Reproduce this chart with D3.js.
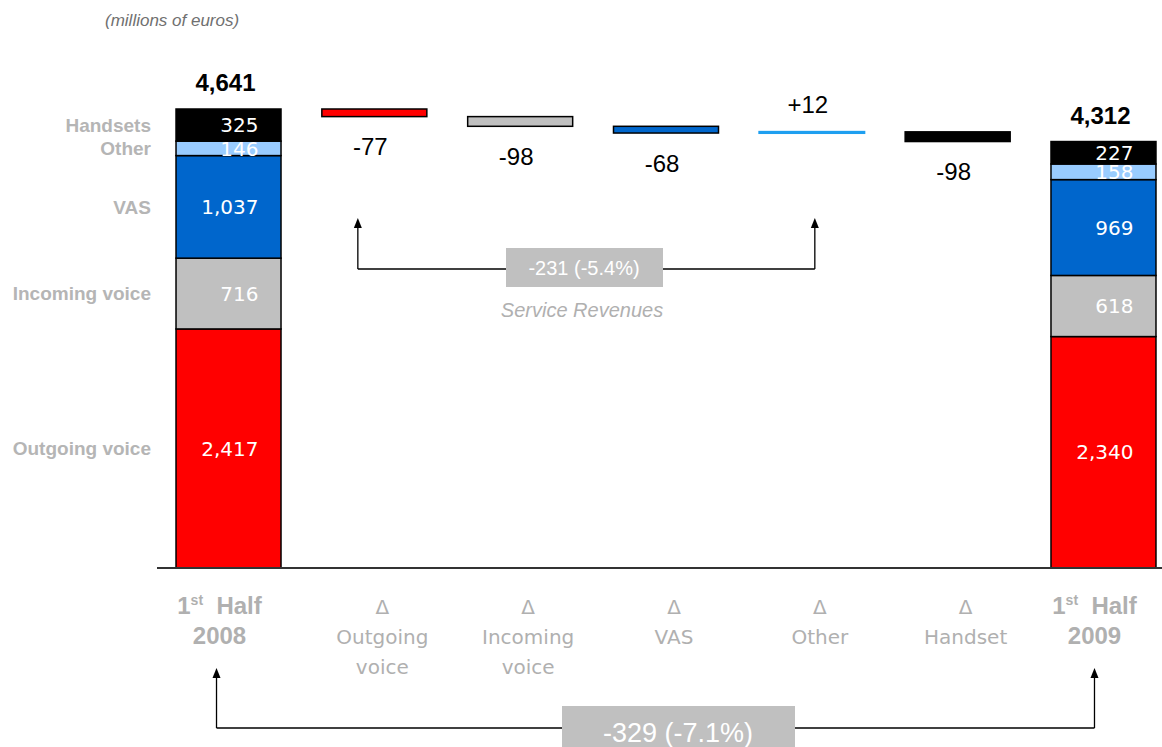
<!DOCTYPE html>
<html><head><meta charset="utf-8">
<script src="https://cdn.jsdelivr.net/npm/d3@7"></script>
<style>
html,body{margin:0;padding:0;background:#fff;}
svg{display:block;}
</style></head>
<body>
<svg id="chart" width="1162" height="747"></svg>
<script>
// ---- data ----
const categories = ["1st Half 2008","Δ Outgoing voice","Δ Incoming voice","Δ VAS","Δ Other","Δ Handset","1st Half 2009"];
const categoryLines = [["1st Half","2008"],["Δ","Outgoing","voice"],["Δ","Incoming","voice"],["Δ","VAS"],["Δ","Other"],["Δ","Handset"],["1st Half","2009"]];
const segmentNames = ["Outgoing voice","Incoming voice","VAS","Other","Handsets"];
const segmentColors = ["#ff0000","#c0c0c0","#0066cc","#99ccff","#000000"];
const values2008 = [2417,716,1037,146,325];
const values2009 = [2340,618,969,158,227];
const deltas = [-77,-98,-68,12,-98];
const deltaColors = ["#ff0000","#c0c0c0","#0066cc","#1e9ff0","#000000"];
const totals = [4641,4312];
const serviceChangeLabel = "-231 (-5.4%)";
const totalChangeLabel = "-329 (-7.1%)";

const svg = d3.select("#chart");
const fmt = d3.format(",");

const x = d3.scaleBand().domain(categories).range([155.6,1176.4]).paddingInner(0.28).paddingOuter(0.14);
const y = d3.scaleLinear().domain([0,4641]).range([568,109]);
const bw = x.bandwidth();
const cx = c => x(c) + bw/2;

// unit label
svg.append("text").attr("x",105).attr("y",26)
  .attr("font-family","Liberation Sans, Arial, sans-serif").attr("font-style","italic")
  .attr("font-size",17).attr("fill","#707070").text("(millions of euros)");

// stacked bars
function stack(vals){
  let acc=0; return vals.map((v,i)=>{const s={v, y0:acc, y1:acc+v, i}; acc+=v; return s;});
}
const stacks = [{cat:categories[0], segs:stack(values2008), total:totals[0]},
                {cat:categories[6], segs:stack(values2009), total:totals[1]}];

stacks.forEach(st=>{
  const g = svg.append("g");
  g.selectAll("rect").data(st.segs).join("rect")
    .attr("x",x(st.cat)).attr("width",bw)
    .attr("y",d=>y(d.y1)).attr("height",d=>y(d.y0)-y(d.y1))
    .attr("fill",d=>segmentColors[d.i]).attr("stroke","#000").attr("stroke-width",1.5);
  g.selectAll("text.seg").data(st.segs).join("text").attr("class","seg")
    .attr("x",cx(st.cat)+30).attr("y",d=>(y(d.y0)+y(d.y1))/2)
    .attr("dy","0.36em").attr("text-anchor","end")
    .attr("font-family","DejaVu Sans, sans-serif").attr("font-size",20).attr("fill","#fff")
    .text(d=>fmt(d.v));
  g.append("text").attr("x",cx(st.cat)-3).attr("y",y(st.total)-18)
    .attr("text-anchor","middle").attr("font-family","Liberation Sans, Arial, sans-serif")
    .attr("font-weight","bold").attr("font-size",24).attr("fill","#000").text(fmt(st.total));
});

// left legend labels (aligned to first bar segments)
svg.append("g").selectAll("text").data(stacks[0].segs).join("text")
  .attr("x",151).attr("y",d=>(y(d.y0)+y(d.y1))/2).attr("dy","0.36em").attr("text-anchor","end")
  .attr("font-family","Liberation Sans, Arial, sans-serif").attr("font-weight","bold")
  .attr("font-size",19).attr("fill","#b5b5b5").text(d=>segmentNames[d.i]);

// waterfall deltas
let run = totals[0];
const wf = deltas.map((d,i)=>{const o={d, from:run, to:run+d, i, cat:categories[i+1]}; run+=d; return o;});
const dg = svg.append("g");
dg.selectAll("rect").data(wf).join("rect")
  .attr("x",d=>x(d.cat)).attr("width",bw)
  .attr("y",d=>y(Math.max(d.from,d.to))).attr("height",d=>y(Math.min(d.from,d.to))-y(Math.max(d.from,d.to)))
  .attr("fill",d=>deltaColors[d.i])
  .attr("stroke",d=>d.d>0?deltaColors[d.i]:"#000").attr("stroke-width",d=>d.d>0?2:1.5);
dg.selectAll("text").data(wf).join("text")
  .attr("x",d=>cx(d.cat)-4)
  .attr("y",d=>d.d<0 ? y(Math.min(d.from,d.to))+30 : y(Math.max(d.from,d.to))-27)
  .attr("dy","0.36em").attr("text-anchor","middle")
  .attr("font-family","Liberation Sans, Arial, sans-serif").attr("font-size",24).attr("fill","#000")
  .text(d=>(d.d>0?"+":"")+d.d);

// baseline
svg.append("line").attr("x1",157).attr("x2",1162).attr("y1",y(0)).attr("y2",y(0))
  .attr("stroke","#333").attr("stroke-width",2);

// category labels
const lg = svg.append("g").attr("fill","#b0b0b0").attr("text-anchor","middle");
categories.forEach((c,i)=>{
  const lines = categoryLines[i];
  const bold = (i===0||i===6);
  const xx = cx(c) + (bold ? -9 : 8);
  lines.forEach((ln,j)=>{
    const t = lg.append("text").attr("x",xx).attr("y",614+30*j)
      .attr("font-family", bold ? "Liberation Sans, Arial, sans-serif" : "DejaVu Sans, sans-serif")
      .attr("font-weight", bold ? "bold":"normal").attr("font-size", bold ? 24 : 20);
    if(bold && j===0){
      t.append("tspan").text("1");
      t.append("tspan").attr("font-size",14).attr("dy",-9).text("st");
      t.append("tspan").attr("dy",9).text("\u00a0 Half");
    } else t.text(ln);
  });
});

// arrow helper
function arrow(g,xp,yTop,yBase){
  g.append("line").attr("x1",xp).attr("x2",xp).attr("y1",yBase).attr("y2",yTop+8)
    .attr("stroke","#000").attr("stroke-width",1.3);
  g.append("path").attr("d",`M${xp-4},${yTop+10}L${xp},${yTop}L${xp+4},${yTop+10}Z`).attr("fill","#000");
}

// service revenues bracket
const sg = svg.append("g");
const sx1 = x(categories[1]) + 36, sx2 = cx(categories[4]) + 3;
sg.append("line").attr("x1",sx1).attr("x2",sx2).attr("y1",269).attr("y2",269).attr("stroke","#000").attr("stroke-width",1.3);
arrow(sg,sx1,218,269); arrow(sg,sx2,218,269);
sg.append("rect").attr("x",506).attr("y",248).attr("width",157).attr("height",39).attr("fill","#c0c0c0");
sg.append("text").attr("x",584).attr("y",268).attr("dy","0.36em").attr("text-anchor","middle")
  .attr("font-family","Liberation Sans, Arial, sans-serif").attr("font-size",20).attr("fill","#fff").text(serviceChangeLabel);
sg.append("text").attr("x",582).attr("y",317).attr("text-anchor","middle")
  .attr("font-family","Liberation Sans, Arial, sans-serif").attr("font-style","italic")
  .attr("font-size",20).attr("fill","#b0b0b0").text("Service Revenues");

// total bracket
const tg = svg.append("g");
const tx1 = cx(categories[0]) - 12, tx2 = cx(categories[6]) - 9;
tg.append("line").attr("x1",tx1).attr("x2",tx2).attr("y1",728).attr("y2",728).attr("stroke","#000").attr("stroke-width",1.3);
arrow(tg,tx1,668,728); arrow(tg,tx2,668,728);
tg.append("rect").attr("x",562).attr("y",706).attr("width",233).attr("height",45).attr("fill","#c0c0c0");
tg.append("text").attr("x",678).attr("y",732).attr("dy","0.36em").attr("text-anchor","middle")
  .attr("font-family","Liberation Sans, Arial, sans-serif").attr("font-size",27).attr("fill","#fff").text(totalChangeLabel);
</script>
</body></html>
